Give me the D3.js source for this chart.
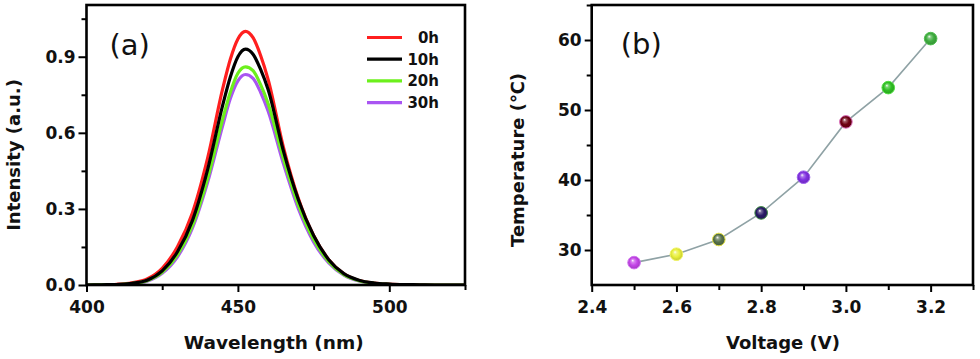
<!DOCTYPE html>
<html>
<head>
<meta charset="utf-8">
<script src="https://cdn.jsdelivr.net/npm/d3@7"></script>
<style>
  body { margin: 0; background: #fff; }
  svg { display: block; font-family: "DejaVu Sans", sans-serif; }
</style>
</head>
<body>
<svg id="chart" width="980" height="359"></svg>
<script>
// ---- panel (a): emission spectra ----
const wavelengths = [400, 405, 410, 415, 420, 425, 430, 435, 440, 445, 447.5, 450, 452.5, 455, 457.5, 460, 465, 470, 475, 480, 485, 490, 495, 500, 505, 510, 515, 520, 525];
const intensity0h  = [0, 0.001, 0.003, 0.009, 0.024, 0.066, 0.150, 0.285, 0.500, 0.775, 0.890, 0.970, 1.000, 0.975, 0.905, 0.810, 0.545, 0.340, 0.195, 0.100, 0.044, 0.018, 0.008, 0.004, 0.002, 0.001, 0, 0, 0];
const intensity10h = [0, 0.001, 0.002, 0.007, 0.019, 0.056, 0.130, 0.255, 0.455, 0.710, 0.820, 0.900, 0.930, 0.910, 0.850, 0.770, 0.530, 0.335, 0.195, 0.100, 0.045, 0.019, 0.008, 0.004, 0.002, 0.001, 0, 0, 0];
const intensity20h = [0, 0.001, 0.002, 0.006, 0.017, 0.050, 0.118, 0.235, 0.420, 0.655, 0.760, 0.835, 0.860, 0.845, 0.790, 0.715, 0.500, 0.315, 0.180, 0.092, 0.041, 0.017, 0.007, 0.003, 0.001, 0, 0, 0, 0];
const intensity30h = [0, 0.001, 0.002, 0.005, 0.015, 0.046, 0.110, 0.225, 0.405, 0.630, 0.735, 0.805, 0.830, 0.815, 0.760, 0.685, 0.480, 0.300, 0.170, 0.087, 0.039, 0.016, 0.007, 0.003, 0.001, 0, 0, 0, 0];
const seriesNames  = ['0h', '10h', '20h', '30h'];
const seriesColors = ['#ff1f1f', '#000000', '#6cf01c', '#a955f2'];
const drawOrder    = [0, 3, 2, 1];            // red under, black on top
const wlTicks   = [400, 450, 500];
const wlMinor   = [425, 475, 525];
const intTicks  = [0, 0.3, 0.6, 0.9];
const intMinor  = [0.15, 0.45, 0.75, 1.05];

// ---- panel (b): temperature vs voltage ----
const voltages     = [2.5, 2.6, 2.7, 2.8, 2.9, 3.0, 3.1, 3.2];
const temperatures = [28.2, 29.4, 31.5, 35.3, 40.4, 48.3, 53.2, 60.2];
const pointColors  = ['#c445e8', '#e9f03c', '#55704a', '#2a1b66', '#8030e0', '#6e0012', '#30c024', '#3fae3f'];
const pointRims    = ['#d070f0', '#f2f560', '#e2e040', '#3a8a40', '#a060f0', '#e070c0', '#50e040', '#50c050'];
const voltTicks = [2.4, 2.6, 2.8, 3.0, 3.2];
const voltMinor = [2.5, 2.7, 2.9, 3.1, 3.3];
const tempTicks = [30, 40, 50, 60];
const tempMinor = [35, 45, 55, 65];

const FONT = '"DejaVu Sans", sans-serif';
const svg = d3.select('#chart');
const defs = svg.append('defs');

function styleAxis(g, fontSize) {
  // d3 pone font-family="sans-serif" en el grupo; lo sustituimos
  g.attr('font-family', FONT).attr('font-size', fontSize).attr('font-weight', 'bold');
  g.select('.domain').remove();
  g.selectAll('.tick line').attr('stroke', '#000').attr('stroke-width', 2);
  g.selectAll('.tick text')
    .attr('fill', '#111')
    .attr('font-family', FONT)
    .attr('font-size', fontSize)
    .attr('font-weight', 'bold');
}

function frame(g, w, h) {
  g.append('rect')
    .attr('width', w).attr('height', h)
    .attr('fill', 'none').attr('stroke', '#000').attr('stroke-width', 2.6);
}

/* ---------------- panel (a) ---------------- */
const A = {left: 86.5, top: 5, w: 378.5, h: 280};
const ga = svg.append('g').attr('transform', `translate(${A.left},${A.top})`);

const xa = d3.scaleLinear().domain([400, 525]).range([0, A.w]);
const ya = d3.scaleLinear().domain([0, 1.104]).range([A.h, 0]);

defs.append('clipPath').attr('id', 'clipA')
  .append('rect').attr('width', A.w).attr('height', A.h);

const allSeries = [intensity0h, intensity10h, intensity20h, intensity30h];
const line = d3.line()
  .x(d => xa(d[0]))
  .y(d => ya(d[1]))
  .curve(d3.curveMonotoneX);

const curves = ga.append('g').attr('clip-path', 'url(#clipA)');
drawOrder.forEach(i => {
  curves.append('path')
    .datum(wavelengths.map((w, k) => [w, allSeries[i][k]]))
    .attr('d', line)
    .attr('fill', 'none')
    .attr('stroke', seriesColors[i])
    .attr('stroke-width', 3.2)
    .attr('stroke-linejoin', 'round');
});

// ejes
ga.append('g').attr('transform', `translate(0,${A.h})`)
  .call(d3.axisBottom(xa).tickValues(wlTicks).tickSize(7).tickPadding(9).tickFormat(d3.format('d')))
  .call(g => styleAxis(g, 17));
ga.append('g').attr('transform', `translate(0,${A.h})`)
  .call(d3.axisBottom(xa).tickValues(wlMinor).tickSize(5).tickFormat(''))
  .call(g => styleAxis(g, 17));
ga.append('g')
  .call(d3.axisLeft(ya).tickValues(intTicks).tickSize(8).tickPadding(3).tickFormat(d3.format('.1f')))
  .call(g => styleAxis(g, 17));
ga.append('g')
  .call(d3.axisLeft(ya).tickValues(intMinor).tickSize(5).tickFormat(''))
  .call(g => styleAxis(g, 17));
frame(ga, A.w, A.h);

ga.append('text')
  .attr('x', 23).attr('y', 50)
  .attr('font-size', 29)
  .attr('fill', '#111')
  .text('(a)');

// leyenda
const leg = ga.append('g').attr('transform', `translate(${367 - A.left},${37.5 - A.top})`);
seriesNames.forEach((name, i) => {
  const row = leg.append('g').attr('transform', `translate(0,${i * 21.7})`);
  row.append('line')
    .attr('x1', 0).attr('x2', 35)
    .attr('stroke', seriesColors[i]).attr('stroke-width', 3.2);
  row.append('text')
    .attr('x', 72).attr('dy', '0.36em')
    .attr('text-anchor', 'end')
    .attr('font-size', 15).attr('font-weight', 'bold')
    .attr('fill', '#111')
    .text(name);
});

svg.append('text')
  .attr('x', A.left + A.w / 2 - 2).attr('y', 349)
  .attr('text-anchor', 'middle')
  .attr('font-size', 18.5).attr('font-weight', 'bold')
  .attr('fill', '#111')
  .text('Wavelength (nm)');
svg.append('text')
  .attr('transform', 'translate(20,155) rotate(-90)')
  .attr('text-anchor', 'middle')
  .attr('font-size', 18).attr('font-weight', 'bold')
  .attr('fill', '#111')
  .text('Intensity (a.u.)');

/* ---------------- panel (b) ---------------- */
const B = {left: 591.7, top: 5, w: 381.3, h: 280};
const gb = svg.append('g').attr('transform', `translate(${B.left},${B.top})`);

const xb = d3.scaleLinear().domain([2.4, 3.3]).range([0, B.w]);
const yb = d3.scaleLinear().domain([25, 65]).range([B.h, 0]);

gb.append('g').attr('transform', `translate(0,${B.h})`)
  .call(d3.axisBottom(xb).tickValues(voltTicks).tickSize(7).tickPadding(9).tickFormat(d3.format('.1f')))
  .call(g => styleAxis(g, 17));
gb.append('g').attr('transform', `translate(0,${B.h})`)
  .call(d3.axisBottom(xb).tickValues(voltMinor).tickSize(5).tickFormat(''))
  .call(g => styleAxis(g, 17));
gb.append('g')
  .call(d3.axisLeft(yb).tickValues(tempTicks).tickSize(7).tickPadding(3).tickFormat(d3.format('d')))
  .call(g => styleAxis(g, 17));
gb.append('g')
  .call(d3.axisLeft(yb).tickValues(tempMinor).tickSize(5).tickFormat(''))
  .call(g => styleAxis(g, 17));

const pts = voltages.map((v, i) => ({v, t: temperatures[i], c: pointColors[i], rim: pointRims[i], i}));

gb.append('path')
  .datum(pts)
  .attr('d', d3.line().x(d => xb(d.v)).y(d => yb(d.t)))
  .attr('fill', 'none')
  .attr('stroke', '#8fa2a5')
  .attr('stroke-width', 1.6);

// esferas con degradado
pts.forEach(d => {
  const grad = defs.append('radialGradient')
    .attr('id', 'ball' + d.i)
    .attr('cx', '50%').attr('cy', '50%').attr('r', '55%')
    .attr('fx', '38%').attr('fy', '32%');
  grad.append('stop').attr('offset', '0%').attr('stop-color', '#ffffff');
  grad.append('stop').attr('offset', '22%').attr('stop-color', d3.interpolateRgb(d.c, '#ffffff')(0.35));
  grad.append('stop').attr('offset', '55%').attr('stop-color', d.c);
  grad.append('stop').attr('offset', '100%').attr('stop-color', d3.color(d.c).darker(0.6));
});

gb.selectAll('circle.pt')
  .data(pts)
  .enter().append('circle')
  .attr('class', 'pt')
  .attr('cx', d => xb(d.v))
  .attr('cy', d => yb(d.t))
  .attr('r', 6.3)
  .attr('fill', d => `url(#ball${d.i})`)
  .attr('stroke', d => d.rim)
  .attr('stroke-width', 1);

frame(gb, B.w, B.h);

gb.append('text')
  .attr('x', 29).attr('y', 49)
  .attr('font-size', 29)
  .attr('fill', '#111')
  .text('(b)');

svg.append('text')
  .attr('x', 783).attr('y', 349)
  .attr('text-anchor', 'middle')
  .attr('font-size', 18).attr('font-weight', 'bold')
  .attr('fill', '#111')
  .text('Voltage (V)');
svg.append('text')
  .attr('transform', 'translate(524,160) rotate(-90)')
  .attr('text-anchor', 'middle')
  .attr('font-size', 18).attr('font-weight', 'bold')
  .attr('fill', '#111')
  .text('Temperature (℃)');
</script>
</body>
</html>
